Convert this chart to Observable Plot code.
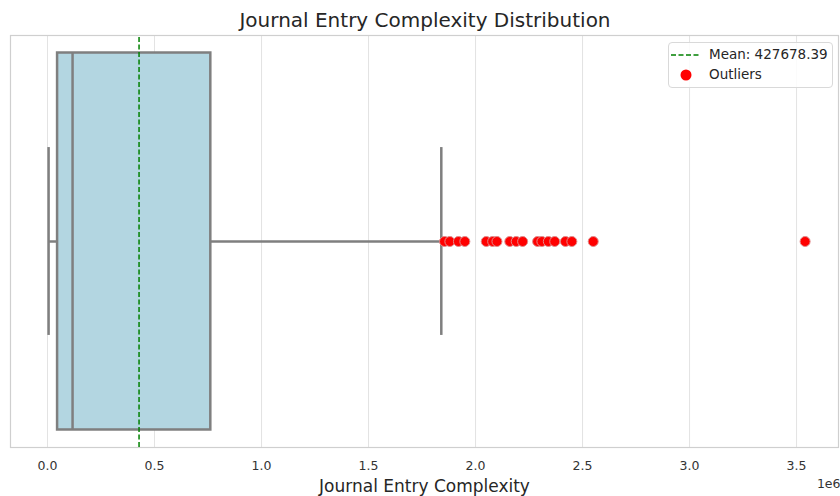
<!DOCTYPE html>
<html>
<head>
<meta charset="utf-8">
<script src="https://cdn.jsdelivr.net/npm/d3@7"></script>
<script src="https://cdn.jsdelivr.net/npm/@observablehq/plot@0.6"></script>
<style>
  body { margin: 0; background: #fff; font-family: "DejaVu Sans", sans-serif; }
  #wrap { position: relative; width: 840px; height: 496px; overflow: hidden; }
  #title { position: absolute; left: 0; top: 8px; width: 850px; text-align: center; font-size: 20px; line-height: 24px; color: #262626; }
  #chart { position: absolute; left: 0; top: 34px; }
  #legend { position: absolute; left: 668px; top: 42px; width: 165px; height: 46px; background: rgba(255,255,255,0.85); border: 1px solid #d9d9d9; border-radius: 4px; box-sizing: border-box; font-size: 13.5px; color: #262626; }
  .li { position: absolute; left: 0; height: 18px; line-height: 18px; }
  .li span { position: absolute; left: 40px; white-space: nowrap; }
</style>
</head>
<body>
<div id="wrap">
  <div id="title">Journal Entry Complexity Distribution</div>
  <div id="chart"></div>
  <div id="legend">
    <div class="li" style="top:2px;width:165px">
      <svg width="40" height="18" style="position:absolute;left:0;top:0"><line x1="2" x2="30" y1="10" y2="10" stroke="green" stroke-width="1.5" stroke-dasharray="5,2.5"/></svg>
      <span>Mean: 427678.39</span>
    </div>
    <div class="li" style="top:22px;width:165px">
      <svg width="40" height="18" style="position:absolute;left:0;top:0"><circle cx="17" cy="10" r="5.5" fill="red"/></svg>
      <span>Outliers</span>
    </div>
  </div>
</div>
<script>
const seriesName = ["Journal Entry Complexity"];
const statNames = ["lowerWhisker", "q1", "median", "q3", "upperWhisker"];
const statValues = [5000, 47000, 117000, 763000, 1840000];
const meanValue = 427678.39;
const outlierValues = [1855000, 1880000, 1920000, 1950000, 2050000, 2080000, 2100000, 2160000, 2190000, 2220000, 2290000, 2310000, 2340000, 2370000, 2420000, 2450000, 2550000, 3540000];
const xTicks = [0, 500000, 1000000, 1500000, 2000000, 2500000, 3000000, 3500000];
const xTickLabels = ["0.0", "0.5", "1.0", "1.5", "2.0", "2.5", "3.0", "3.5"];

const s = Object.fromEntries(statNames.map((n, i) => [n, statValues[i]]));
const boxRow = [{...s, series: seriesName[0]}];
const outliers = outlierValues.map(v => ({value: v, y: 0}));
const edge = "#7f7f7f";
const halfBox = 0.4575, halfCap = 0.228;

const chart = Plot.plot({
  width: 840,
  height: 462,
  marginTop: 1,
  marginBottom: 49,
  marginLeft: 10,
  marginRight: 2,
  style: {fontFamily: "DejaVu Sans", fontSize: "12.5px", color: "#333", background: "white", overflow: "visible"},
  x: {
    domain: [-173000, 3696000],
    ticks: xTicks,
    tickFormat: d => xTickLabels[xTicks.indexOf(d)],
    tickSize: 0,
    tickPadding: 14,
    label: null
  },
  y: {domain: [-0.5, 0.5], axis: null},
  marks: [
    Plot.ruleX(xTicks, {stroke: "#e3e3e3", strokeWidth: 1}),
    Plot.frame({stroke: "#cfcfcf", strokeWidth: 1.2}),
    Plot.ruleY(boxRow, {y: () => 0, x1: "lowerWhisker", x2: "q1", stroke: edge, strokeWidth: 2.5}),
    Plot.ruleY(boxRow, {y: () => 0, x1: "q3", x2: "upperWhisker", stroke: edge, strokeWidth: 2.5}),
    Plot.ruleX([s.lowerWhisker, s.upperWhisker], {y1: -halfCap, y2: halfCap, stroke: edge, strokeWidth: 2.5}),
    Plot.rect(boxRow, {x1: "q1", x2: "q3", y1: () => -halfBox, y2: () => halfBox, fill: "#b3d6e1", stroke: edge, strokeWidth: 2.5}),
    Plot.ruleX([s.median], {y1: -halfBox, y2: halfBox, stroke: edge, strokeWidth: 2.5}),
    Plot.ruleX([meanValue], {y1: -0.5, y2: 0.5, stroke: "green", strokeWidth: 1.5, strokeDasharray: "5,2.5"}),
    Plot.dot(outliers, {x: "value", y: "y", r: 5, fill: "red", stroke: "#e08a8a", strokeWidth: 1}),
    Plot.text(seriesName, {frameAnchor: "bottom", dy: 39, text: d => d, fontSize: 17, fill: "#262626", lineAnchor: "middle"}),
    Plot.text(["1e6"], {frameAnchor: "bottom-right", dy: 36, dx: 2, text: d => d, fontSize: 12.5, fill: "#333", textAnchor: "end", lineAnchor: "middle"})
  ]
});
document.getElementById("chart").appendChild(chart);
</script>
</body>
</html>
